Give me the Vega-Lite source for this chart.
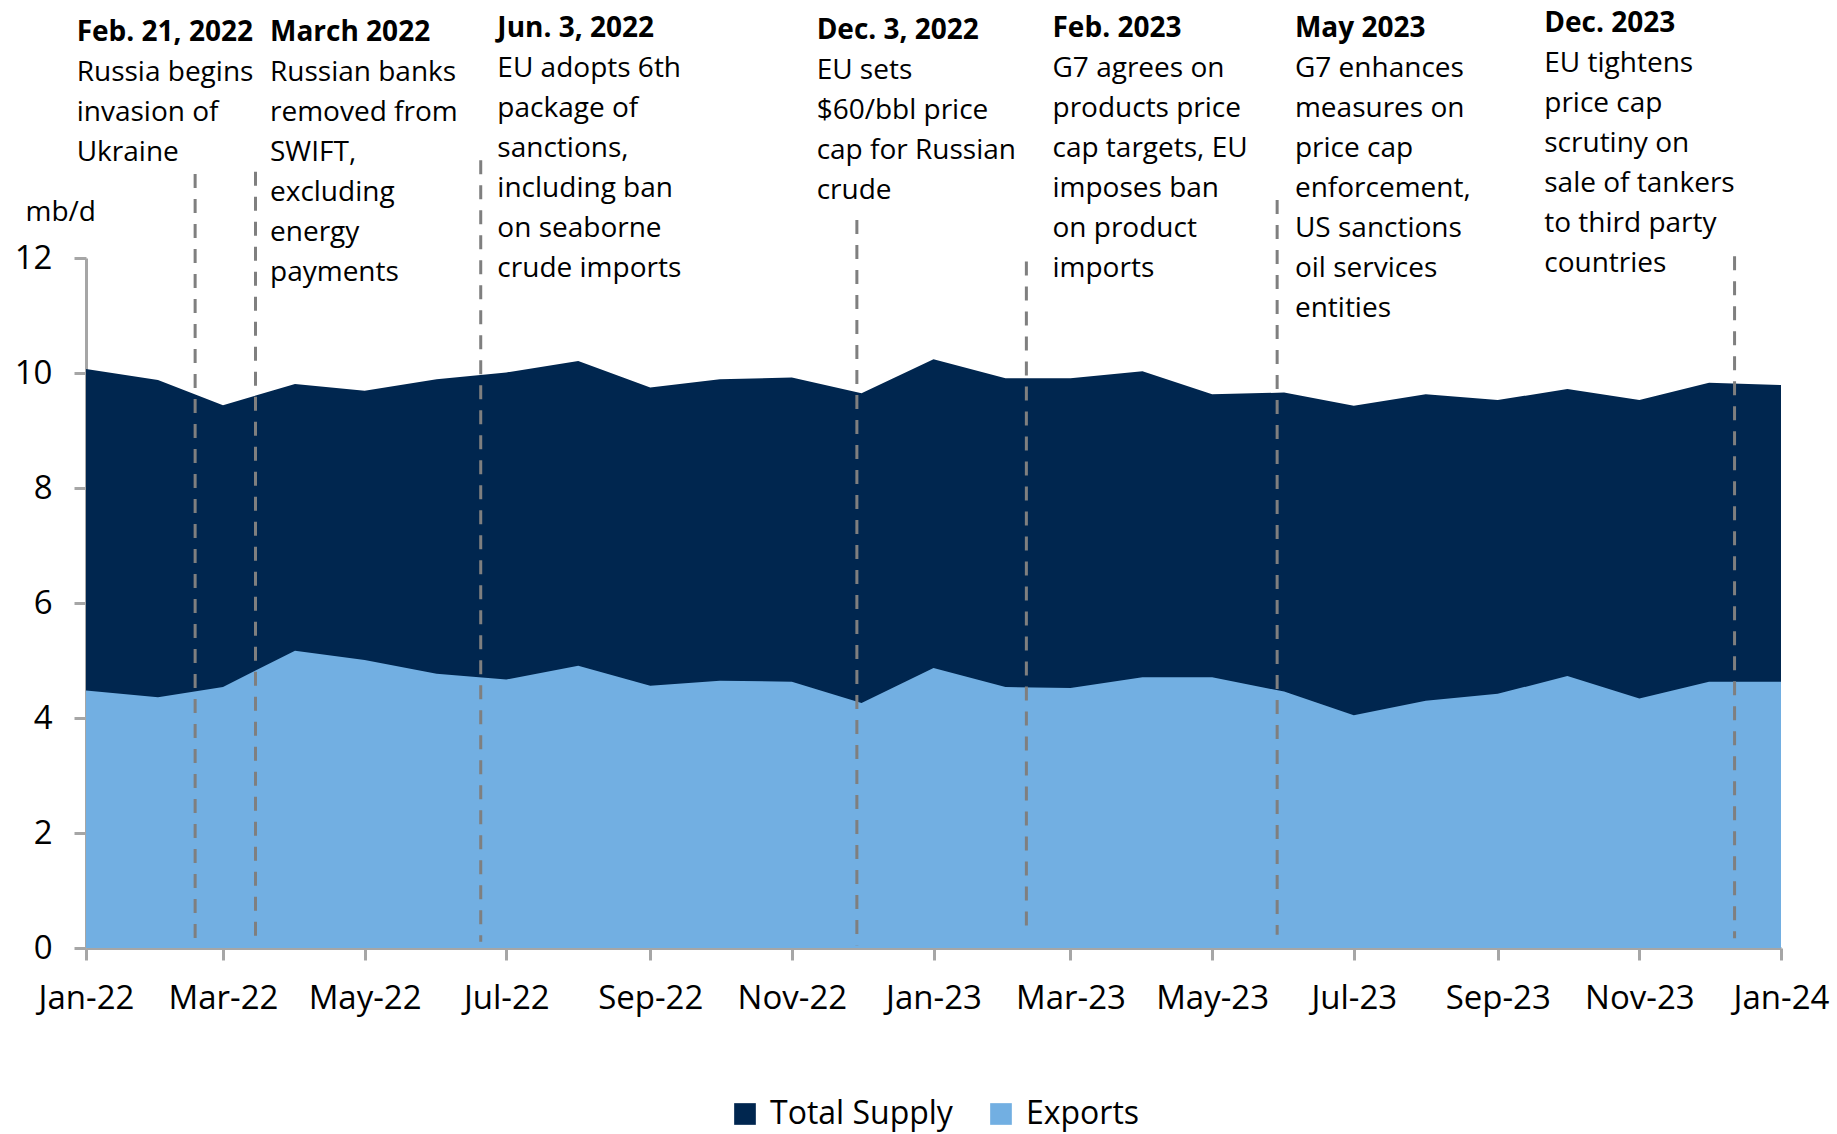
{
  "$schema": "https://vega.github.io/schema/vega-lite/v6.json",
  "autosize": {"type": "none"},
  "width": 1695,
  "height": 690,
  "padding": {"left": 86, "top": 258, "right": 56, "bottom": 186},
  "background": "white",
  "config": {
    "view": {"stroke": null},
    "font": "Open Sans",
    "axis": {"labelFont": "Open Sans", "titleFont": "Open Sans", "labelColor": "#000000", "titleColor": "#000000"}
  },
  "datasets": {
    "supply": [
      {"date": "2022-01-01", "series": "Total Supply", "value": 10.07},
      {"date": "2022-02-01", "series": "Total Supply", "value": 9.88},
      {"date": "2022-03-01", "series": "Total Supply", "value": 9.44},
      {"date": "2022-04-01", "series": "Total Supply", "value": 9.81},
      {"date": "2022-05-01", "series": "Total Supply", "value": 9.69},
      {"date": "2022-06-01", "series": "Total Supply", "value": 9.89},
      {"date": "2022-07-01", "series": "Total Supply", "value": 10.01},
      {"date": "2022-08-01", "series": "Total Supply", "value": 10.21},
      {"date": "2022-09-01", "series": "Total Supply", "value": 9.75},
      {"date": "2022-10-01", "series": "Total Supply", "value": 9.89},
      {"date": "2022-11-01", "series": "Total Supply", "value": 9.92},
      {"date": "2022-12-01", "series": "Total Supply", "value": 9.65},
      {"date": "2023-01-01", "series": "Total Supply", "value": 10.24},
      {"date": "2023-02-01", "series": "Total Supply", "value": 9.91},
      {"date": "2023-03-01", "series": "Total Supply", "value": 9.91},
      {"date": "2023-04-01", "series": "Total Supply", "value": 10.03},
      {"date": "2023-05-01", "series": "Total Supply", "value": 9.63},
      {"date": "2023-06-01", "series": "Total Supply", "value": 9.66},
      {"date": "2023-07-01", "series": "Total Supply", "value": 9.43},
      {"date": "2023-08-01", "series": "Total Supply", "value": 9.63},
      {"date": "2023-09-01", "series": "Total Supply", "value": 9.53},
      {"date": "2023-10-01", "series": "Total Supply", "value": 9.72},
      {"date": "2023-11-01", "series": "Total Supply", "value": 9.53},
      {"date": "2023-12-01", "series": "Total Supply", "value": 9.83},
      {"date": "2024-01-01", "series": "Total Supply", "value": 9.79},
      {"date": "2022-01-01", "series": "Exports", "value": 4.48},
      {"date": "2022-02-01", "series": "Exports", "value": 4.36},
      {"date": "2022-03-01", "series": "Exports", "value": 4.54},
      {"date": "2022-04-01", "series": "Exports", "value": 5.17},
      {"date": "2022-05-01", "series": "Exports", "value": 5.01},
      {"date": "2022-06-01", "series": "Exports", "value": 4.77},
      {"date": "2022-07-01", "series": "Exports", "value": 4.67},
      {"date": "2022-08-01", "series": "Exports", "value": 4.91},
      {"date": "2022-09-01", "series": "Exports", "value": 4.56},
      {"date": "2022-10-01", "series": "Exports", "value": 4.65},
      {"date": "2022-11-01", "series": "Exports", "value": 4.63},
      {"date": "2022-12-01", "series": "Exports", "value": 4.26},
      {"date": "2023-01-01", "series": "Exports", "value": 4.87},
      {"date": "2023-02-01", "series": "Exports", "value": 4.54},
      {"date": "2023-03-01", "series": "Exports", "value": 4.52},
      {"date": "2023-04-01", "series": "Exports", "value": 4.71},
      {"date": "2023-05-01", "series": "Exports", "value": 4.71},
      {"date": "2023-06-01", "series": "Exports", "value": 4.46},
      {"date": "2023-07-01", "series": "Exports", "value": 4.05},
      {"date": "2023-08-01", "series": "Exports", "value": 4.30},
      {"date": "2023-09-01", "series": "Exports", "value": 4.42},
      {"date": "2023-10-01", "series": "Exports", "value": 4.73},
      {"date": "2023-11-01", "series": "Exports", "value": 4.34},
      {"date": "2023-12-01", "series": "Exports", "value": 4.63},
      {"date": "2024-01-01", "series": "Exports", "value": 4.63}
    ],
    "events": [
      {"date": "2022-02-17", "top": 13.46, "bottom": 0.03},
      {"date": "2022-03-15", "top": 13.5, "bottom": 0.07},
      {"date": "2022-06-20", "top": 13.7, "bottom": 0.11},
      {"date": "2022-11-29", "top": 12.66, "bottom": 0.05},
      {"date": "2023-02-10", "top": 11.94, "bottom": 0.25},
      {"date": "2023-05-29", "top": 13.01, "bottom": 0.23},
      {"date": "2023-12-12", "top": 12.03, "bottom": 0.17}
    ],
    "notes": [
      {"date": "2021-12-28T00:00:00Z", "head": "Feb. 21, 2022", "headY": 15.77, "body": "Russia begins|invasion of|Ukraine", "bodyY": 15.07},
      {"date": "2022-03-21T06:00:00Z", "head": "March 2022", "headY": 15.77, "body": "Russian banks|removed from|SWIFT,|excluding|energy|payments", "bodyY": 15.07},
      {"date": "2022-06-27T04:00:00Z", "head": "Jun. 3, 2022", "headY": 15.85, "body": "EU adopts 6th|package of|sanctions,|including ban|on seaborne|crude imports", "bodyY": 15.15},
      {"date": "2022-11-11T16:00:00Z", "head": "Dec. 3, 2022", "headY": 15.81, "body": "EU sets|$60/bbl price|cap for Russian|crude", "bodyY": 15.11},
      {"date": "2023-02-21T06:00:00Z", "head": "Feb. 2023", "headY": 15.85, "body": "G7 agrees on|products price|cap targets, EU|imposes ban|on product|imports", "bodyY": 15.15},
      {"date": "2023-06-05T16:00:00Z", "head": "May 2023", "headY": 15.85, "body": "G7 enhances|measures on|price cap|enforcement,|US sanctions|oil services|entities", "bodyY": 15.15},
      {"date": "2023-09-21T01:00:00Z", "head": "Dec. 2023", "headY": 15.93, "body": "EU tightens|price cap|scrutiny on|sale of tankers|to third party|countries", "bodyY": 15.23}
    ]
  },
  "layer": [
    {
      "data": {"name": "supply"},
      "transform": [{"filter": "datum.series === 'Total Supply'"}],
      "mark": {"type": "area", "opacity": 1},
      "encoding": {
        "x": {
          "field": "date", "type": "temporal",
          "scale": {"type": "utc", "domain": [{"year": 2022, "month": 1, "date": 1, "utc": true}, {"year": 2024, "month": 1, "date": 1, "utc": true}], "nice": false},
          "axis": {
            "title": null,
            "labelExpr": "utcFormat(datum.value, '%b-%y')",
            "tickCount": {"interval": "month", "step": 2},
            "grid": false, "labelFlush": false, "labelOverlap": false,
            "labelFontSize": 33, "labelPadding": 22,
            "domainColor": "#A6A6A6", "domainWidth": 3,
            "tickColor": "#A6A6A6", "tickWidth": 3, "tickSize": 12
          }
        },
        "y": {
          "field": "value", "type": "quantitative", "stack": null,
          "scale": {"domain": [0, 12], "nice": false, "zero": true},
          "axis": {
            "title": "mb/d", "titleAngle": 0, "titleAlign": "left", "titleBaseline": "alphabetic",
            "titleX": -61, "titleY": -38, "titleFontSize": 28, "titleFontWeight": "normal",
            "values": [0, 2, 4, 6, 8, 10, 12], "format": "d", "grid": false,
            "labelFontSize": 33, "labelPadding": 22,
            "domainColor": "#A6A6A6", "domainWidth": 3,
            "tickColor": "#A6A6A6", "tickWidth": 3, "tickSize": 12
          }
        },
        "color": {
          "field": "series", "type": "nominal",
          "scale": {"domain": ["Total Supply", "Exports"], "range": ["#00264F", "#72AFE2"]},
          "legend": {
            "title": null, "orient": "none", "direction": "horizontal",
            "legendX": 643, "legendY": 840, "padding": 0,
            "symbolType": "square", "symbolSize": 470, "symbolStrokeWidth": 0, "symbolOpacity": 1,
            "labelFont": "Open Sans", "labelFontSize": 32, "labelColor": "#000000", "labelLimit": 500,
            "labelOffset": 9, "columnPadding": 32
          }
        }
      }
    },
    {
      "data": {"name": "supply"},
      "transform": [{"filter": "datum.series === 'Exports'"}],
      "mark": {"type": "area", "opacity": 1},
      "encoding": {
        "x": {"field": "date", "type": "temporal"},
        "y": {"field": "value", "type": "quantitative", "stack": null},
        "color": {"field": "series", "type": "nominal"}
      }
    },
    {
      "data": {"name": "events"},
      "mark": {"type": "rule", "color": "#7F7F7F", "strokeWidth": 3, "strokeDash": [14, 11]},
      "encoding": {
        "x": {"field": "date", "type": "temporal"},
        "y": {"field": "top", "type": "quantitative"},
        "y2": {"field": "bottom"}
      }
    },
    {
      "data": {"name": "notes"},
      "mark": {"type": "text", "align": "left", "baseline": "alphabetic", "font": "Open Sans", "fontSize": 28, "fontWeight": "bold", "color": "#000000"},
      "encoding": {
        "x": {"field": "date", "type": "temporal"},
        "y": {"field": "headY", "type": "quantitative"},
        "text": {"field": "head"}
      }
    },
    {
      "data": {"name": "notes"},
      "mark": {"type": "text", "align": "left", "baseline": "alphabetic", "font": "Open Sans", "fontSize": 28, "lineBreak": "|", "lineHeight": 40, "color": "#000000"},
      "encoding": {
        "x": {"field": "date", "type": "temporal"},
        "y": {"field": "bodyY", "type": "quantitative"},
        "text": {"field": "body"}
      }
    }
  ]
}
